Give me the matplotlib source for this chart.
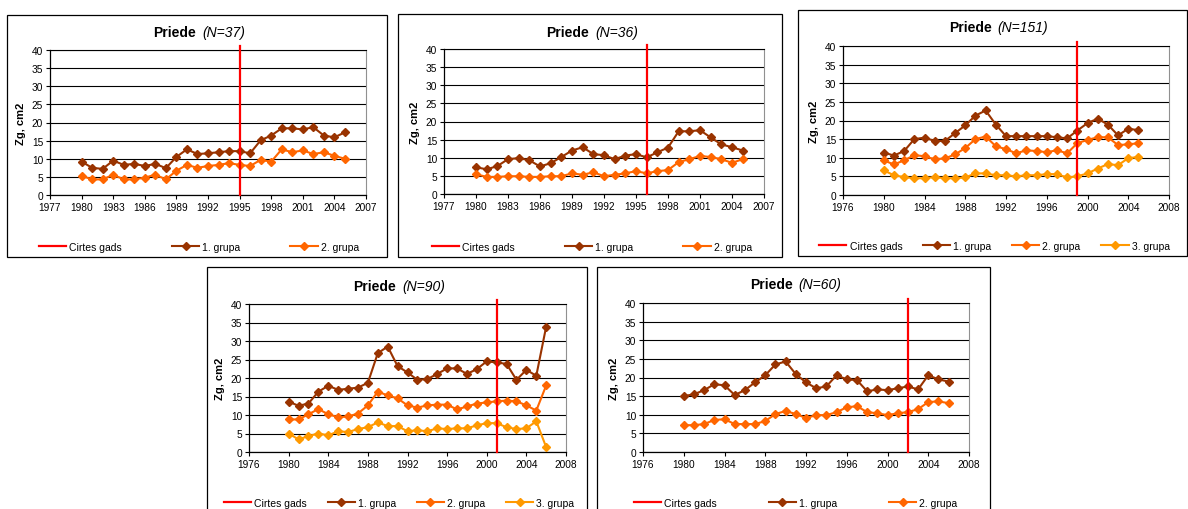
import numpy as np
import matplotlib
matplotlib.use("Agg")
from matplotlib import pyplot as plt
from matplotlib.patches import Rectangle

plt.rcParams['font.family'] = ['Liberation Sans', 'DejaVu Sans']

# ---- data ----
years_a = list(range(1980, 2006))   # 26 years
years_b = list(range(1980, 2007))   # 27 years

n37_g1 = [9.2, 7.5, 7.2, 9.5, 8.3, 8.6, 8.0, 8.6, 7.4, 10.5, 12.6, 11.3, 11.5, 11.8, 12.1, 12.1,
          11.5, 15.1, 16.4, 18.4, 18.4, 18.1, 18.7, 16.4, 15.9, 17.3]
n37_g2 = [5.3, 4.3, 4.3, 5.6, 4.3, 4.3, 4.8, 5.6, 4.3, 6.7, 8.3, 7.5, 8.0, 8.3, 8.8, 8.3,
          8.0, 9.7, 9.2, 12.6, 11.8, 12.3, 11.3, 11.8, 10.8, 10.0]

n36_g1 = [7.4, 6.8, 7.7, 9.6, 9.9, 9.3, 7.6, 8.5, 10.2, 12.0, 12.9, 11.0, 10.7, 9.6, 10.6, 11.0,
          10.1, 11.5, 12.8, 17.3, 17.3, 17.6, 15.6, 13.7, 12.9, 12.0]
n36_g2 = [5.5, 4.7, 4.7, 4.9, 4.9, 4.7, 4.7, 4.9, 4.9, 5.7, 5.3, 6.0, 4.9, 5.3, 5.7, 6.3,
          5.7, 6.3, 6.6, 8.8, 9.6, 10.5, 10.2, 9.6, 8.6, 9.6]

n151_g1 = [11.4, 10.6, 11.8, 15.0, 15.4, 14.5, 14.5, 16.6, 18.7, 21.3, 22.7, 18.9, 15.8, 15.8, 15.8,
           15.8, 15.8, 15.5, 15.2, 17.3, 19.3, 20.5, 18.9, 16.0, 17.8, 17.4]
n151_g2 = [9.3, 8.2, 9.3, 10.7, 10.4, 9.6, 9.8, 10.9, 12.6, 15.0, 15.7, 13.1, 12.3, 11.2, 12.0,
           11.8, 11.5, 12.0, 11.2, 13.9, 14.8, 15.5, 15.5, 13.4, 13.6, 13.9]
n151_g3 = [6.6, 5.3, 4.8, 4.5, 4.5, 4.8, 4.5, 4.5, 4.7, 5.8, 5.8, 5.3, 5.3, 5.0, 5.3,
           5.3, 5.6, 5.6, 4.7, 5.0, 5.8, 7.1, 8.3, 8.0, 9.9, 10.2]

n90_g1 = [13.6, 12.5, 13.1, 16.3, 17.9, 16.8, 17.1, 17.4, 18.7, 26.7, 28.5, 23.2, 21.5, 19.5, 19.7,
          21.1, 22.6, 22.6, 21.1, 22.4, 24.5, 24.2, 23.8, 19.5, 22.2, 20.6, 33.9]
n90_g2 = [8.8, 8.8, 10.2, 11.6, 10.2, 9.4, 9.6, 10.4, 12.6, 16.3, 15.3, 14.5, 12.6, 12.0, 12.6,
          12.8, 12.8, 11.5, 12.3, 13.1, 13.4, 13.7, 13.9, 13.7, 12.6, 11.2, 18.0]
n90_g3 = [5.0, 3.4, 4.3, 5.0, 4.5, 5.6, 5.4, 6.2, 6.7, 8.0, 7.0, 7.0, 5.6, 5.9, 5.6,
          6.4, 6.2, 6.4, 6.4, 7.2, 7.8, 7.8, 6.7, 6.2, 6.4, 8.3, 1.3]

n60_g1 = [15.0, 15.5, 16.6, 18.2, 17.9, 15.3, 16.6, 18.7, 20.6, 23.5, 24.3, 20.9, 18.7, 17.1, 17.6,
          20.6, 19.5, 19.3, 16.3, 16.8, 16.6, 17.1, 17.6, 16.8, 20.6, 19.5, 18.9]
n60_g2 = [7.2, 7.2, 7.5, 8.6, 8.8, 7.5, 7.5, 7.5, 8.3, 10.2, 11.0, 10.2, 9.1, 9.9, 9.9,
          10.7, 12.0, 12.3, 10.7, 10.4, 9.9, 10.4, 10.7, 11.5, 13.4, 13.6, 13.1]

labels = ["Cirtes gads", "1. grupa", "2. grupa", "3. grupa"]
colors = ["#FF0000", "#993300", "#FF6600", "#FF9900"]

W, H = 1188, 510
fig = plt.figure(figsize=(W / 100, H / 100), dpi=100)


def px_axes(l, t, r, b):
    return fig.add_axes([l / W, 1 - b / H, (r - l) / W, (b - t) / H])


def panel(box, plot, n, years, groups, cut, xlim, xstep, title_y, leg_y, colsp):
    bl, bt, br, bb = box
    fig.patches.append(Rectangle((bl / W, 1 - bb / H), (br - bl) / W, (bb - bt) / H,
                                 transform=fig.transFigure, fill=False, ec="black", lw=0.9))
    ax = px_axes(*plot)
    ax.set_xlim(*xlim)
    ax.set_ylim(0, 40)
    ax.set_xticks(np.arange(xlim[0], xlim[1] + 1, xstep))
    ax.set_yticks(np.arange(0, 41, 5))
    ax.yaxis.grid(True, color="black", lw=0.8)
    ax.set_axisbelow(True)
    ax.tick_params(labelsize=7.3, length=3, width=0.8, pad=2)
    for s in ("left", "bottom"):
        ax.spines[s].set_color("black")
        ax.spines[s].set_linewidth(0.9)
    ax.spines["top"].set_color("black")
    ax.spines["top"].set_linewidth(0.8)
    ax.spines["right"].set_color("#909090")
    ax.spines["right"].set_linewidth(0.8)

    handles = []
    h, = ax.plot([cut, cut], [0, 41], color=colors[0], lw=1.6, clip_on=False, zorder=4)
    handles.append(h)
    for i, g in enumerate(groups):
        h, = ax.plot(years, g, color=colors[i + 1], lw=1.5, marker="D", ms=4.2,
                     mec=colors[i + 1], zorder=3)
        handles.append(h)

    ax.set_ylabel("Zg, cm2", fontsize=8, fontweight="bold", labelpad=4)

    cx = (bl + br) / 2 + 2
    fig.text((cx - 3) / W, 1 - title_y / H, "Priede", ha="right", va="center",
             fontsize=10, fontweight="bold")
    fig.text((cx + 3) / W, 1 - title_y / H, "(N=%d)" % n, ha="left", va="center",
             fontsize=10, style="italic")

    fig.legend(handles, labels[:len(handles)], loc="center",
               bbox_to_anchor=(cx / W, 1 - leg_y / H), ncol=len(handles), frameon=False,
               fontsize=7.5, handlelength=2.6, handletextpad=0.3, columnspacing=colsp,
               borderaxespad=0, borderpad=0)
    return ax


panel((7, 16, 387, 258), (50, 51, 366, 196), 37, years_a, [n37_g1, n37_g2], 1995,
      (1977, 2007), 3, 33, 248, 4.8)
panel((398, 15, 782, 258), (444, 50, 764, 195), 36, years_a, [n36_g1, n36_g2], 1996,
      (1977, 2007), 3, 33, 248, 4.8)
panel((798, 11, 1187, 257), (843, 47, 1169, 196), 151, years_a, [n151_g1, n151_g2, n151_g3], 1999,
      (1976, 2008), 4, 28, 247, 2.0)
panel((207, 268, 587, 515), (249, 305, 566, 453), 90, years_b, [n90_g1, n90_g2, n90_g3], 2001,
      (1976, 2008), 4, 287, 504, 2.0)
panel((597, 268, 990, 515), (643, 304, 969, 453), 60, years_b, [n60_g1, n60_g2], 2002,
      (1976, 2008), 4, 285, 504, 5.0)

fig.savefig("out.png", dpi=100)
